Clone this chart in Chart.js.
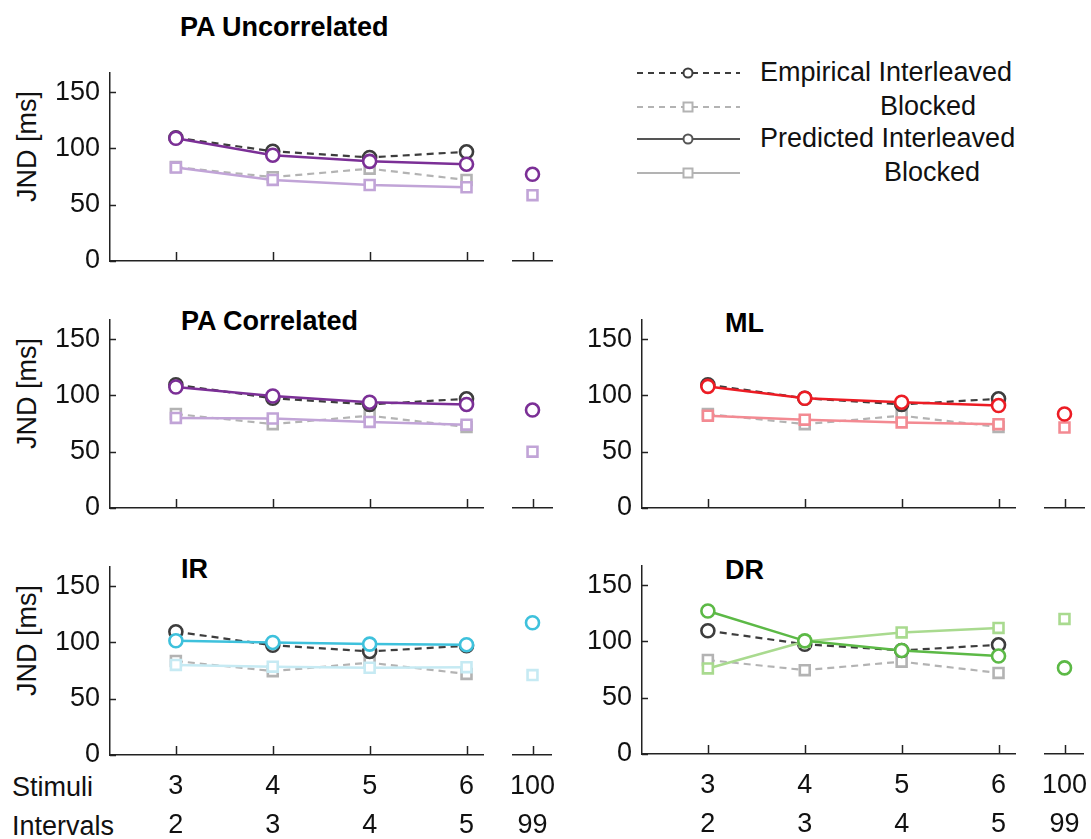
<!DOCTYPE html>
<html>
<head>
<meta charset="utf-8">
<script src="https://cdn.jsdelivr.net/npm/chart.js@4.4.0/dist/chart.umd.min.js"></script>
<style>
body { margin: 0; width: 1091px; height: 839px; overflow: hidden; background: #fff; font-family: "Liberation Sans", Arial, sans-serif; }
canvas { position: absolute; }
.title { position: absolute; font-weight: bold; font-size: 27px; line-height: 27px; color: #000; white-space: nowrap; }
.txt { position: absolute; font-size: 27px; line-height: 27px; color: #111; white-space: nowrap; }
.ylab { position: absolute; width: 140px; text-align: center; font-size: 27px; line-height: 27px; color: #111; transform: rotate(-90deg); white-space: nowrap; }
</style>
</head>
<body>

<div class="title" style="left:180px; top:14px;">PA Uncorrelated</div>
<div class="title" style="left:181px; top:308px;">PA Correlated</div>
<div class="title" style="left:725px; top:310px;">ML</div>
<div class="title" style="left:181px; top:556px;">IR</div>
<div class="title" style="left:725px; top:557px;">DR</div>

<div class="ylab" style="left:-43px; top:133px;">JND [ms]</div>
<div class="ylab" style="left:-43px; top:380px;">JND [ms]</div>
<div class="ylab" style="left:-43px; top:627px;">JND [ms]</div>

<div class="txt" style="left:12px; top:774px;">Stimuli</div>
<div class="txt" style="left:12px; top:813px;">Intervals</div>

<div class="txt" style="left:760px; top:59px;">Empirical Interleaved</div>
<div class="txt" style="left:880px; top:93px;">Blocked</div>
<div class="txt" style="left:760px; top:125px;">Predicted Interleaved</div>
<div class="txt" style="left:884px; top:159px;">Blocked</div>

<script>
// x categories / tick labels
const stimuli = [3, 4, 5, 6];
const intervals = [2, 3, 4, 5];
const stimuliSide = [100];
const intervalsSide = [99];
const yTicks = [0, 50, 100, 150];

// empirical JND (same in every panel)
const empInterleaved = [109.5, 97.5, 92, 97];
const empBlocked = [83.5, 74.5, 82, 72];

// model predictions, 3-6 stimuli
const paUncInterleaved = [109, 94, 88.5, 86];
const paUncBlocked = [83, 72, 67.5, 65.5];
const paCorInterleaved = [107.5, 99.5, 94, 92];
const paCorBlocked = [80, 79.5, 76.5, 74];
const mlInterleaved = [108, 97.5, 94, 91];
const mlBlocked = [82, 78.5, 76, 74.5];
const irInterleaved = [101.5, 100, 98.5, 98];
const irBlocked = [80, 78.5, 77.5, 78];
const drInterleaved = [127, 100.5, 92, 87];
const drBlocked = [76, 100, 108, 112];

// model predictions, 100 stimuli
const paUncSide = [77, 58.5];   // interleaved, blocked
const paCorSide = [87, 50];
const mlSide = [83.5, 71.5];
const irSide = [117.5, 71];
const drSide = [76.5, 120];

const axisColor = '#222';
const darkGray = '#3d3d3d';
const lightGray = '#b3b3b3';
const fontFamily = '"Liberation Sans", Arial, sans-serif';

// ticks pointing into the plot, like the original
const inwardTicks = {
    id: 'inwardTicks',
    afterDraw(chart) {
        const ctx = chart.ctx;
        const area = chart.chartArea;
        ctx.save();
        ctx.strokeStyle = axisColor;
        ctx.lineWidth = 1.5;
        const xs = chart.scales.x;
        xs.ticks.forEach(t => {
            const px = Math.round(xs.getPixelForValue(t.value)) + 0.5;
            ctx.beginPath();
            ctx.moveTo(px, area.bottom);
            ctx.lineTo(px, area.bottom - 9);
            ctx.stroke();
        });
        const ys = chart.scales.y;
        if (ys.options.display) {
            ys.ticks.forEach(t => {
                const py = Math.round(ys.getPixelForValue(t.value)) + 0.5;
                ctx.beginPath();
                ctx.moveTo(area.left, py);
                ctx.lineTo(area.left + 6, py);
                ctx.stroke();
            });
        }
        ctx.restore();
    }
};

function toPoints(xs, ys) {
    return ys.map((v, i) => ({ x: xs[i], y: v }));
}

function lineSet(data, color, dashed, style) {
    return {
        data: data,
        borderColor: color,
        backgroundColor: '#fff',
        borderWidth: dashed ? 2.2 : 2.5,
        borderDash: dashed ? [7, 5] : [],
        pointStyle: style,
        pointRadius: style === 'rect' ? 7 : 6.5,
        pointBorderWidth: 2.6,
        pointBackgroundColor: '#fff',
        pointBorderColor: color,
        tension: 0,
        clip: false,
    };
}

function addCanvas(left, top, width, height) {
    const c = document.createElement('canvas');
    c.width = width;
    c.height = height;
    c.style.left = left + 'px';
    c.style.top = top + 'px';
    c.style.width = width + 'px';
    c.style.height = height + 'px';
    document.body.appendChild(c);
    return c;
}

function makePanel(p) {
    const areaW = 373, areaH = 188, yW = 100, padTop = 32;
    const xH = p.bottom ? 98 : 32;
    const tickFont = { family: fontFamily, size: 27, lineHeight: 1.45 };

    // main plot: 3-6 stimuli
    const main = addCanvas(p.left - yW, p.top - padTop, yW + areaW + 10, padTop + areaH + xH);
    new Chart(main, {
        type: 'line',
        data: {
            datasets: [
                lineSet(toPoints(stimuli, p.inter), p.dark, false, 'circle'),
                lineSet(toPoints(stimuli, p.block), p.light, false, 'rect'),
                lineSet(toPoints(stimuli, empInterleaved), darkGray, true, 'circle'),
                lineSet(toPoints(stimuli, empBlocked), lightGray, true, 'rect'),
            ]
        },
        options: {
            responsive: false,
            animation: false,
            layout: { padding: { top: padTop, right: 10, left: 0, bottom: 0 } },
            plugins: { legend: { display: false }, tooltip: { enabled: false } },
            scales: {
                x: {
                    type: 'linear',
                    min: 2.32,
                    max: 6.17,
                    afterBuildTicks: s => { s.ticks = stimuli.map(v => ({ value: v })); },
                    afterFit: s => { s.height = xH; },
                    grid: { display: false, drawTicks: false },
                    border: { display: true, color: axisColor, width: 1.5 },
                    ticks: {
                        display: p.bottom,
                        padding: 12,
                        color: '#111',
                        font: tickFont,
                        maxRotation: 0,
                        callback: (v, i) => [String(stimuli[i]), String(intervals[i])],
                    },
                },
                y: {
                    min: 0,
                    max: 167,
                    afterBuildTicks: s => { s.ticks = yTicks.map(v => ({ value: v })); },
                    afterFit: s => { s.width = yW; },
                    grid: { display: false, drawTicks: false },
                    border: { display: true, color: axisColor, width: 1.5 },
                    ticks: { padding: 10, color: '#111', font: { family: fontFamily, size: 27 } },
                },
            },
        },
        plugins: [inwardTicks],
    });

    // side plot: 100 stimuli
    const sideW = 39, sidePad = 30;
    const side = addCanvas(p.sideLeft - sidePad, p.top - padTop, sidePad * 2 + sideW, padTop + areaH + xH);
    new Chart(side, {
        type: 'line',
        data: {
            datasets: [
                lineSet([{ x: stimuliSide[0], y: p.side[0] }], p.dark, false, 'circle'),
                lineSet([{ x: stimuliSide[0], y: p.side[1] }], p.light, false, 'rect'),
            ]
        },
        options: {
            responsive: false,
            animation: false,
            layout: { padding: { top: padTop, right: sidePad, left: sidePad, bottom: 0 } },
            plugins: { legend: { display: false }, tooltip: { enabled: false } },
            scales: {
                x: {
                    type: 'linear',
                    min: 99,
                    max: 101,
                    afterBuildTicks: s => { s.ticks = stimuliSide.map(v => ({ value: v })); },
                    afterFit: s => { s.height = xH; },
                    grid: { display: false, drawTicks: false },
                    border: { display: true, color: axisColor, width: 1.5 },
                    ticks: {
                        display: p.bottom,
                        padding: 12,
                        color: '#111',
                        font: tickFont,
                        maxRotation: 0,
                        callback: (v, i) => [String(stimuliSide[i]), String(intervalsSide[i])],
                    },
                },
                y: { display: false, min: 0, max: 167 },
            },
        },
        plugins: [inwardTicks],
    });
}

const panels = [
    { left: 110, sideLeft: 513, top: 73, bottom: false, inter: paUncInterleaved, block: paUncBlocked, side: paUncSide, dark: '#7b2f96', light: '#c1a4d7' },
    { left: 110, sideLeft: 513, top: 320, bottom: false, inter: paCorInterleaved, block: paCorBlocked, side: paCorSide, dark: '#7b2f96', light: '#c1a4d7' },
    { left: 642, sideLeft: 1045, top: 320, bottom: false, inter: mlInterleaved, block: mlBlocked, side: mlSide, dark: '#ec1c24', light: '#f38a92' },
    { left: 110, sideLeft: 513, top: 567, bottom: true, inter: irInterleaved, block: irBlocked, side: irSide, dark: '#3ec1dc', light: '#c6eaf3' },
    { left: 642, sideLeft: 1045, top: 566, bottom: true, inter: drInterleaved, block: drBlocked, side: drSide, dark: '#5cb946', light: '#a9da8f' },
];
panels.forEach(makePanel);

// legend symbols
const lg = addCanvas(630, 55, 120, 135);
const lctx = lg.getContext('2d');
const legendRows = [
    { y: 18, color: darkGray, dash: [6, 5], style: 'circle' },
    { y: 52, color: lightGray, dash: [6, 5], style: 'rect' },
    { y: 84, color: '#555', dash: [], style: 'circle' },
    { y: 118, color: lightGray, dash: [], style: 'rect' },
];
legendRows.forEach(r => {
    lctx.strokeStyle = r.color;
    lctx.lineWidth = 2;
    lctx.setLineDash(r.dash);
    lctx.beginPath();
    lctx.moveTo(7, r.y);
    lctx.lineTo(110, r.y);
    lctx.stroke();
    lctx.setLineDash([]);
    lctx.fillStyle = '#fff';
    lctx.beginPath();
    if (r.style === 'circle') {
        lctx.arc(58, r.y, 4.5, 0, Math.PI * 2);
    } else {
        lctx.rect(53.5, r.y - 4.5, 9, 9);
    }
    lctx.fill();
    lctx.stroke();
});
</script>
</body>
</html>
